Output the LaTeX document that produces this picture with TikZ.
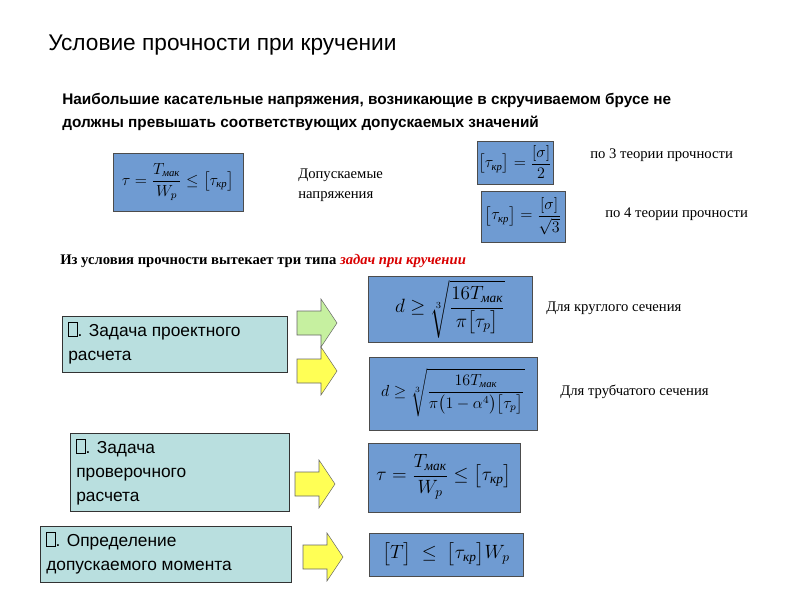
\documentclass[tikz,border=0pt]{standalone}
\usepackage{amsmath}
\usepackage{fontspec}
\setmainfont{Liberation Serif}
\setsansfont{Liberation Sans}
\usetikzlibrary{positioning}
\definecolor{fblue}{HTML}{6F9BD2}
\definecolor{lteal}{HTML}{B9DFDF}
\definecolor{agreen}{HTML}{C6F0A0}
\definecolor{ayellow}{HTML}{FFFF55}
\newcommand\tofu{{\setlength{\fboxrule}{0.5pt}\setlength{\fboxsep}{0pt}\fbox{\rule{0pt}{10pt}\rule{6pt}{0pt}}}}
\newcommand\cy[1]{\text{\itshape #1}}
\tikzset{
 fbox/.style={draw=black!70, fill=fblue, inner sep=0pt},
 tbox/.style={draw=black!80, fill=lteal, inner sep=0pt},
 arr/.style={draw=black!60, line width=0.4pt},
 lbl/.style={anchor=west, font=\fontsize{11}{13}\selectfont, inner sep=0pt},
 ttxt/.style={anchor=north west, font=\sffamily\fontsize{13}{18}\selectfont, align=left, inner sep=0pt}
}
\begin{document}
\begin{tikzpicture}[x=0.75pt,y=-0.75pt]
\useasboundingbox (0,0) rectangle (800,600);
\fill[white] (0,0) rectangle (800,600);
\node[anchor=west,inner sep=0pt,font=\sffamily\fontsize{17}{20}\selectfont] (title) at (48,45) {Условие прочности при кручении};
\node[anchor=north west,inner sep=0pt,align=left,font=\sffamily\bfseries\fontsize{11.5}{17}\selectfont] (para) at (62,93) {Наибольшие касательные напряжения, возникающие в скручиваемом брусе не\\должны превышать соответствующих допускаемых значений};
% top formula boxes
\draw[fbox] (113,153) rectangle (243,211);
\node (f0) at (178,182) {\large$\tau=\dfrac{T_{\cy{мак}}}{W_p}\le\bigl[\tau_{\cy{кр}}\bigr]$};
\node[anchor=north west,inner sep=0pt,align=left,font=\fontsize{11}{15}\selectfont] (dop) at (298,169) {Допускаемые\\напряжения};
\draw[fbox] (477,141) rectangle (553,184);
\node (f3) at (515,162) {\large$\bigl[\tau_{\cy{кр}}\bigr]=\dfrac{[\sigma]}{2}$};
\draw[fbox] (481,191) rectangle (565,242);
\node (f4) at (523,216) {\large$\bigl[\tau_{\cy{кр}}\bigr]=\dfrac{[\sigma]}{\sqrt3}$};
\node[lbl] (t3) at (590,155) {по 3 теории прочности};
\node[lbl] (t4) at (605,214) {по 4 теории прочности};
\node[anchor=west,inner sep=0pt,font=\bfseries\fontsize{11}{13}\selectfont] (types) at (60,261) {Из условия прочности вытекает три типа \textcolor{red!85!black}{\itshape задач при кручении}};
% task boxes
\draw[tbox] (62,316) rectangle (287,372);
\node[ttxt] (ta) at (68,322) {\tofu. Задача проектного\\расчета};
\draw[tbox] (70,433) rectangle (289,511);
\node[ttxt] (tb) at (76,439) {\tofu. Задача\\проверочного\\расчета};
\draw[tbox] (40,526) rectangle (291,582);
\node[ttxt] (tc) at (46,532) {\tofu. Определение\\допускаемого момента};
% arrows
\foreach \x/\y/\c in {297/323/agreen,297/371/ayellow,295/484/ayellow,303/557/ayellow}{
 \draw[arr,fill=\c] (\x,\y-12) -- (\x+24,\y-12) -- (\x+24,\y-24) -- (\x+40,\y) -- (\x+24,\y+24) -- (\x+24,\y+12) -- (\x,\y+12) -- cycle;
}
% formula boxes
\draw[fbox] (368,276) rectangle (532,342);
\node (fa) at (450,309) {\Large$d\ge\sqrt[3]{\dfrac{16T_{\cy{мак}}}{\pi\bigl[\tau_p\bigr]}}$};
\draw[fbox] (369,357) rectangle (537,430);
\node (fb) at (453,393) {\large$d\ge\sqrt[3]{\dfrac{16T_{\cy{мак}}}{\pi\bigl(1-\alpha^4\bigr)\bigl[\tau_p\bigr]}}$};
\draw[fbox] (368,443) rectangle (520,512);
\node (fc) at (444,477) {\Large$\tau=\dfrac{T_{\cy{мак}}}{W_p}\le\bigl[\tau_{\cy{кр}}\bigr]$};
\draw[fbox] (369,533) rectangle (523,576);
\node (fd) at (446,554) {\Large$\bigl[T\bigr]\ \le\ \bigl[\tau_{\cy{кр}}\bigr]W_p$};
\node[lbl] (la) at (546,308) {Для круглого сечения};
\node[lbl] (lb) at (560,392) {Для трубчатого сечения};
\end{tikzpicture}
\end{document}
